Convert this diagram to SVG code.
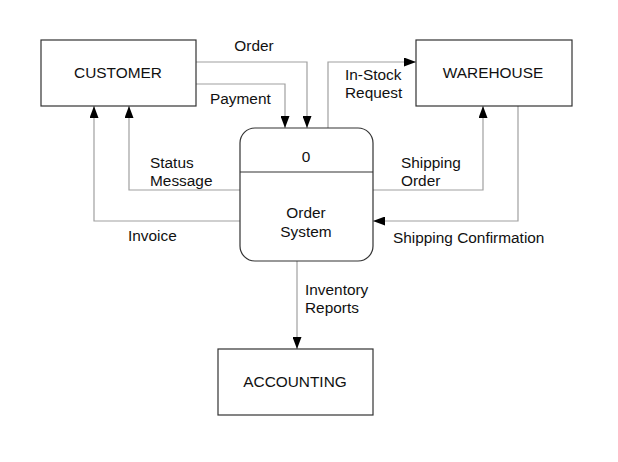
<svg xmlns="http://www.w3.org/2000/svg" width="618" height="462" viewBox="0 0 618 462">
<style>
.box{fill:#fff;stroke:#333;stroke-width:1.2}
.ln{fill:none;stroke:#a0a0a0;stroke-width:1.2}
text{font-family:"Liberation Sans",Arial,sans-serif;font-size:15.4px;fill:#111}
.c{text-anchor:middle}
</style>
<defs>
<marker id="ah" markerWidth="12" markerHeight="9" refX="12" refY="4.5" orient="auto" markerUnits="userSpaceOnUse">
<path d="M0,0 L12,4.5 L0,9 Z" fill="#000"/>
</marker>
</defs>
<rect width="618" height="462" fill="#fff"/>
<g id="connectors">
<path class="ln" d="M196,62 H307 V128" marker-end="url(#ah)"/>
<path class="ln" d="M196,84 H285 V128" marker-end="url(#ah)"/>
<path class="ln" d="M240,190 H129 V106" marker-end="url(#ah)"/>
<path class="ln" d="M240,221 H94 V106" marker-end="url(#ah)"/>
<path class="ln" d="M328,128 V62 H416" marker-end="url(#ah)"/>
<path class="ln" d="M373,190 H483 V106" marker-end="url(#ah)"/>
<path class="ln" d="M518,106 V221 H373" marker-end="url(#ah)"/>
<path class="ln" d="M297,261 V349" marker-end="url(#ah)"/>
<text x="254" y="51" class="c">Order</text>
<text x="210" y="104">Payment</text>
<text x="150" y="168">Status</text>
<text x="150" y="186">Message</text>
<text x="128" y="241">Invoice</text>
<text x="345" y="80">In-Stock</text>
<text x="345" y="98">Request</text>
<text x="401" y="168">Shipping</text>
<text x="401" y="186">Order</text>
<text x="393" y="243">Shipping Confirmation</text>
<text x="305" y="295">Inventory</text>
<text x="305" y="313">Reports</text>
</g>
<g id="customer">
<rect class="box" x="41" y="40" width="155" height="66"/>
<text x="118" y="78" class="c">CUSTOMER</text>
</g>
<g id="warehouse">
<rect class="box" x="416" y="40" width="156" height="66"/>
<text x="493" y="78" class="c">WAREHOUSE</text>
</g>
<g id="order-system">
<rect class="box" x="240" y="128" width="133" height="133" rx="15" ry="15"/>
<line x1="240" y1="172" x2="373" y2="172" stroke="#333" stroke-width="1.2"/>
<text x="306" y="162" class="c">0</text>
<text x="306" y="218" class="c">Order</text>
<text x="306" y="237" class="c">System</text>
</g>
<g id="accounting">
<rect class="box" x="218" y="349" width="155" height="66"/>
<text x="295" y="387" class="c">ACCOUNTING</text>
</g>
</svg>
